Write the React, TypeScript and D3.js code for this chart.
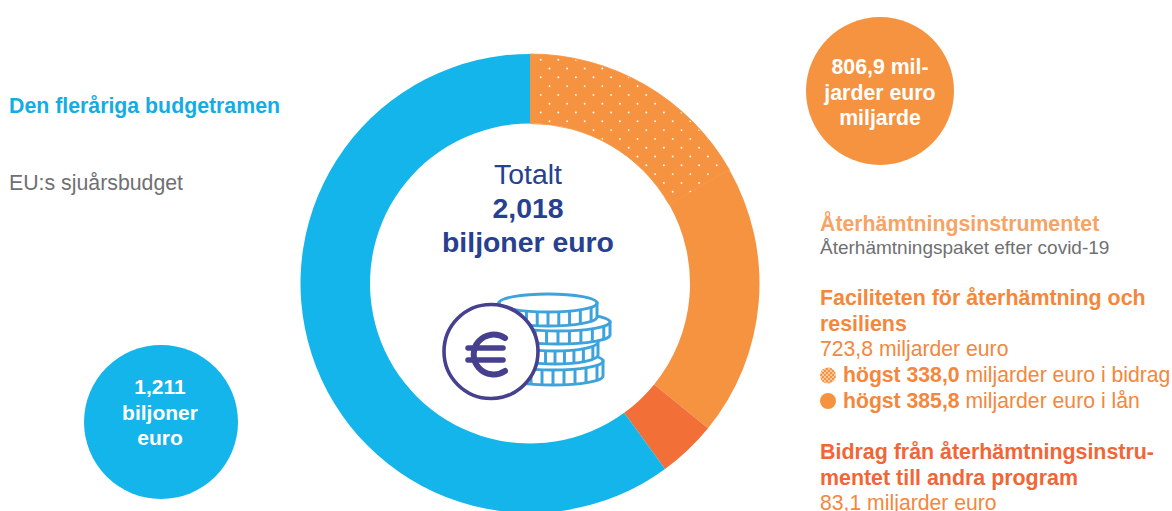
import React from "react";
import * as d3 from "d3";

const WIDTH = 1172;
const HEIGHT = 511;

// Segments clockwise from 12 o'clock (miljarder euro)
const segmentNames = ["Bidrag (högst)", "Lån (högst)", "Andra program", "Den fleråriga budgetramen"];
const segmentValues = [338.0, 385.8, 83.1, 1211];
const segmentColors = ["#f59340", "#f59340", "#f26f38", "#13b5ea"];
const segmentPatterned = [true, false, false, false];

const centerLines = ["Totalt", "2,018", "biljoner euro"];
const blueBubbleLines = ["1,211", "biljoner", "euro"];
const orangeBubbleLines = ["806,9 mil-", "jarder euro", "miljarde"];

const SANS = "'Liberation Sans', Arial, sans-serif";
const BLUE = "#13ade4";
const GREY = "#6f7073";
const NAVY = "#27408f";
const ORANGE = "#f4873c";
const LIGHT_ORANGE = "#f7a366";
const RED = "#f26535";

function Coin({ cx, top, rx, ry, h }: { cx: number; top: number; rx: number; ry: number; h: number }) {
  const stroke = "#3ea3dc";
  const ribs = d3.range(-0.88, 0.95, 0.22);
  return (
    <g>
      <path
        d={`M${cx - rx},${top} V${top + h} A${rx},${ry} 0 0 0 ${cx + rx},${top + h} V${top} Z`}
        fill="#fff"
        stroke={stroke}
        strokeWidth={3}
      />
      {ribs.map((t) => {
        const x = cx + t * rx;
        const y = top + ry * Math.sqrt(1 - t * t);
        return <line key={t} x1={x} x2={x} y1={y} y2={y + h} stroke={stroke} strokeWidth={3} />;
      })}
      <ellipse cx={cx} cy={top} rx={rx} ry={ry} fill="#fff" stroke={stroke} strokeWidth={3} />
    </g>
  );
}

export default function App() {
  const cx = 530;
  const cy = 283.5;
  const pie = d3.pie<number>().value((d) => d).sort(null)(segmentValues);
  const arc = d3.arc<d3.PieArcDatum<number>>().innerRadius(160).outerRadius(229.5);
  const dotClip = d3.arc<d3.PieArcDatum<number>>().innerRadius(161).outerRadius(228.5);

  // Texture of the patterned slice: a staggered lattice clipped to the slice
  const step = 8.8;
  const dots = d3.range(0, 24).flatMap((row) =>
    d3
      .range(0, 24)
      .filter((col) => (col + row) % 2 === 0)
      .map((col) => ({ x: 540.7 - cx + col * step, y: 59.7 - cy + row * step }))
  );

  const t = (
    x: number,
    y: number,
    s: string,
    size: number,
    fill: string,
    weight: number | string = 400,
    anchor: string = "start"
  ) => (
    <text x={x} y={y} fontSize={size} fill={fill} fontWeight={weight} textAnchor={anchor} fontFamily={SANS}>
      {s}
    </text>
  );

  return (
    <svg
      width={WIDTH}
      height={HEIGHT}
      viewBox={`0 0 ${WIDTH} ${HEIGHT}`}
      style={{ position: "absolute", left: 0, top: 0, display: "block", background: "#fff" }}
    >
      <defs>
        <clipPath id="dotClip">
          {pie.map((d, i) => (segmentPatterned[i] ? <path key={i} d={dotClip(d) ?? ""} /> : null))}
        </clipPath>
        <pattern id="legendDots" patternUnits="userSpaceOnUse" width={4} height={4}>
          <rect width={4} height={4} fill="#f59340" />
          <circle cx={1} cy={1} r={0.9} fill="#fde3cf" />
          <circle cx={3} cy={3} r={0.9} fill="#fde3cf" />
        </pattern>
        <filter id="soft" x="-5%" y="-5%" width="110%" height="110%">
          <feGaussianBlur stdDeviation={0.7} />
        </filter>
      </defs>

      {/* Donut */}
      <g transform={`translate(${cx},${cy})`}>
        {pie.map((d, i) => (
          <path
            key={segmentNames[i]}
            d={arc(d) ?? ""}
            fill={segmentColors[i]}
            stroke={segmentColors[i] === segmentColors[i + 1] ? segmentColors[i] : "none"}
            strokeWidth={0.8}
          />
        ))}
        <g clipPath="url(#dotClip)">
          {dots.map((d, i) => (
            <circle key={i} cx={d.x} cy={d.y} r={0.95} fill="#fff" />
          ))}
        </g>
      </g>

      {/* Centre */}
      {t(cx - 2, 184, centerLines[0], 28.4, NAVY, 400, "middle")}
      {t(cx - 2, 218, centerLines[1], 28.4, NAVY, 700, "middle")}
      {t(cx - 2, 252, centerLines[2], 28.4, NAVY, 700, "middle")}

      {/* Coin icon */}
      <g filter="url(#soft)">
        <Coin cx={553} top={361} rx={50} ry={9} h={15} />
        <Coin cx={555} top={342} rx={43} ry={9} h={13} />
        <Coin cx={558} top={322} rx={52} ry={9} h={13} />
        <Coin cx={548} top={303} rx={49} ry={9} h={14} />
        <circle cx={491} cy={351.5} r={47} fill="#fff" stroke="#46408f" strokeWidth={3.6} />
        <path
          d="M505,338 A20,20 0 1 0 505,371"
          fill="none"
          stroke="#46408f"
          strokeWidth={6}
          strokeLinecap="round"
        />
        <path d="M468,348 H503 M468,360 H503" fill="none" stroke="#46408f" strokeWidth={5.5} strokeLinecap="round" />
      </g>

      {/* Left labels */}
      {t(9, 113, "Den fleråriga budgetramen", 21.3, BLUE, 700)}
      {t(9, 190, "EU:s sjuårsbudget", 21.3, GREY)}

      {/* Blue bubble */}
      <circle cx={161} cy={422} r={77} fill="#13b5ea" />
      {t(160, 394, blueBubbleLines[0], 21, "#fff", 700, "middle")}
      {t(160, 420, blueBubbleLines[1], 21, "#fff", 700, "middle")}
      {t(160, 445, blueBubbleLines[2], 21, "#fff", 700, "middle")}

      {/* Orange bubble */}
      <circle cx={880} cy={91} r={74} fill="#f59340" />
      {t(880, 74, orangeBubbleLines[0], 21.3, "#fff", 700, "middle")}
      {t(880, 100, orangeBubbleLines[1], 21.3, "#fff", 700, "middle")}
      {t(880, 125, orangeBubbleLines[2], 21.3, "#fff", 700, "middle")}

      {/* Right labels */}
      {t(820, 231, "Återhämtningsinstrumentet", 21.3, LIGHT_ORANGE, 700)}
      {t(820, 254, "Återhämtningspaket efter covid-19", 19, GREY)}
      {t(820, 305, "Faciliteten för återhämtning och", 21.4, ORANGE, 700)}
      {t(820, 331, "resiliens", 21.4, ORANGE, 700)}
      {t(820, 356, "723,8 miljarder euro", 21.2, ORANGE)}

      <circle cx={828} cy={375.5} r={8} fill="url(#legendDots)" />
      <text x={843} y={382} fontSize={21.2} fill={ORANGE} fontFamily={SANS}>
        <tspan fontWeight={700}>högst 338,0</tspan> miljarder euro i bidrag
      </text>
      <circle cx={828} cy={401} r={8} fill="#f59340" />
      <text x={843} y={407.5} fontSize={21.2} fill={ORANGE} fontFamily={SANS}>
        <tspan fontWeight={700}>högst 385,8</tspan> miljarder euro i lån
      </text>

      {t(820, 459, "Bidrag från återhämtningsinstru-", 21.4, RED, 700)}
      {t(820, 485, "mentet till andra program", 21.4, RED, 700)}
      {t(820, 510, "83,1 miljarder euro", 21.2, ORANGE)}
    </svg>
  );
}
